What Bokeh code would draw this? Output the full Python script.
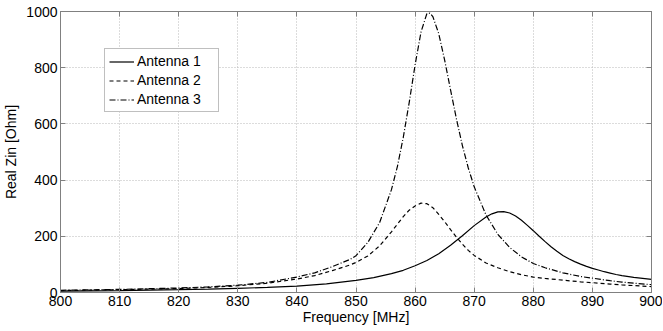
from bokeh.plotting import figure
from bokeh.models import Range1d, LinearAxis, FixedTicker, Legend, LegendItem, CustomJSTickFormatter
from bokeh.embed import file_html
from bokeh.resources import INLINE

# Frequencies [MHz] and real part of input impedance [Ohm]
freq1 = [800, 810, 820, 825, 830, 835, 840, 845, 850, 853, 856, 858, 860, 862, 864, 866,
         868, 870, 872, 873, 874, 875, 876, 877, 878, 879, 880, 881, 882, 883, 884, 885,
         886, 887, 888, 889, 890, 891, 892, 893, 894, 895, 897, 900]
ant1 = [5, 7, 10, 12, 15, 18, 23, 31, 43, 53, 67, 79, 95, 114, 138, 168,
        202, 238, 269, 280, 287, 288, 283, 272, 257, 239, 220, 200, 181, 163, 147, 132,
        120, 110, 101, 93, 86, 80, 74, 69, 64, 60, 54, 47]

freq2 = [800, 810, 820, 825, 830, 835, 840, 843, 846, 849, 850, 852, 854, 856, 858, 859, 860,
         861, 862, 863, 864, 865, 866, 867, 868, 869, 870, 872, 874, 876, 878, 880, 882, 885,
         888, 890, 893, 895, 900]
ant2 = [7, 10, 14, 18, 24, 33, 48, 60, 78, 98, 107, 130, 166, 216, 270, 293, 308,
        318, 316, 302, 278, 252, 224, 197, 172, 150, 132, 105, 88, 74, 63, 55, 50, 44,
        38, 35, 30, 27, 21]

freq3 = [800, 810, 820, 825, 830, 835, 840, 843, 846, 849, 850, 852, 854, 856, 857, 858, 859,
         860, 861, 862, 862.5, 863, 864, 865, 866, 867, 868, 869, 870, 872, 874, 876, 878,
         880, 882, 885, 888, 890, 893, 895, 897, 900]
ant3 = [8, 11, 16, 20, 26, 36, 55, 70, 92, 118, 131, 178, 249, 366, 448, 552, 676,
        810, 927, 993, 994, 982, 921, 827, 721, 617, 523, 443, 376, 276, 207, 160, 127,
        103, 88, 70, 57, 51, 42, 37, 33, 28]

labels = ["Antenna 1", "Antenna 2", "Antenna 3"]
x_ticks = list(range(800, 901, 10))
y_ticks = list(range(0, 1001, 200))

FONT = "Liberation Sans"
FRAME = "#808080"

p = figure(width=662, height=330, output_backend="svg", toolbar_location=None,
           x_range=Range1d(800, 900), y_range=Range1d(0, 1000),
           min_border_left=59, min_border_right=11, min_border_top=11, min_border_bottom=38)
p.outline_line_color = FRAME
p.background_fill_color = "white"
p.border_fill_color = "white"

for ax in (p.xaxis[0], p.yaxis[0]):
    ax.major_tick_in = 5
    ax.major_tick_out = 0
    ax.minor_tick_line_color = None
    ax.axis_line_color = FRAME
    ax.major_tick_line_color = FRAME
    ax.major_label_text_font = FONT
    ax.major_label_text_font_size = "14px"
    ax.major_label_text_color = "black"
    ax.axis_label_text_font = FONT
    ax.axis_label_text_font_size = "14px"
    ax.axis_label_text_font_style = "normal"
    ax.axis_label_text_color = "black"
p.xaxis[0].ticker = FixedTicker(ticks=x_ticks)
p.yaxis[0].ticker = FixedTicker(ticks=y_ticks)
p.xaxis[0].axis_label = "Frequency [MHz]"
p.yaxis[0].axis_label = "Real Zin [Ohm]"
p.xaxis[0].major_label_standoff = 3
p.xaxis[0].axis_label_standoff = 0
p.yaxis[0].major_label_standoff = 3
p.yaxis[0].axis_label_standoff = 4

# mirrored ticks on top and right (no labels)
blank = CustomJSTickFormatter(code="return ''")
top = LinearAxis(ticker=FixedTicker(ticks=x_ticks), formatter=blank,
                 major_tick_in=5, major_tick_out=0, minor_tick_line_color=None,
                 axis_line_color=FRAME, major_tick_line_color=FRAME,
                 major_label_standoff=0)
right = LinearAxis(ticker=FixedTicker(ticks=y_ticks), formatter=blank,
                   major_tick_in=5, major_tick_out=0, minor_tick_line_color=None,
                   axis_line_color=FRAME, major_tick_line_color=FRAME,
                   major_label_standoff=0)
p.add_layout(top, "above")
p.add_layout(right, "right")

p.xgrid.ticker = FixedTicker(ticks=x_ticks)
p.ygrid.ticker = FixedTicker(ticks=y_ticks)
p.grid.grid_line_color = "#b8b8b8"
p.grid.grid_line_dash = "1 2"
p.grid.grid_line_width = 1

r1 = p.line(freq1, ant1, line_color="black", line_width=1.2)
r2 = p.line(freq2, ant2, line_color="black", line_width=1.2, line_dash="4 3")
r3 = p.line(freq3, ant3, line_color="black", line_width=1.2, line_dash="6 2 1 2")

legend = Legend(items=[LegendItem(label=labels[0], renderers=[r1]),
                       LegendItem(label=labels[1], renderers=[r2]),
                       LegendItem(label=labels[2], renderers=[r3])],
                location=(44, 180))
legend.border_line_color = FRAME
legend.border_line_width = 1
legend.background_fill_color = "white"
legend.background_fill_alpha = 1
legend.label_text_font = FONT
legend.label_text_font_size = "14px"
legend.label_text_color = "black"
legend.glyph_width = 25
legend.glyph_height = 15
legend.label_height = 15
legend.label_width = 77
legend.label_standoff = 3
legend.spacing = 3
legend.padding = 4
legend.margin = 0
p.add_layout(legend, "center")

open("out.html", "w").write(file_html(p, INLINE))
